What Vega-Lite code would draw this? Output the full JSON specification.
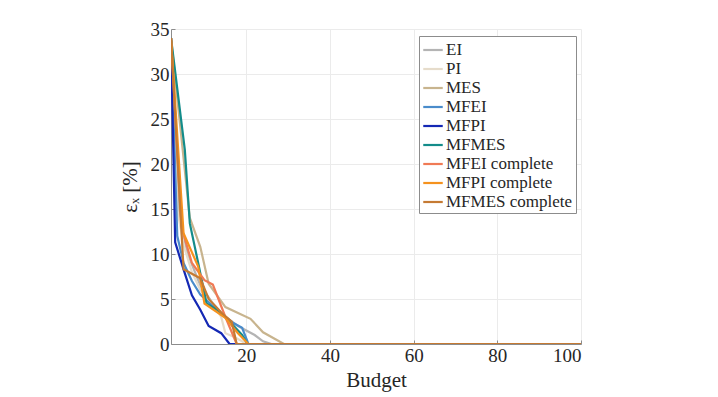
{
  "$schema": "https://vega.github.io/schema/vega-lite/v6.json",
  "autosize": "none",
  "width": 410,
  "height": 315,
  "padding": {"left": 171, "top": 29, "right": 137, "bottom": 53},
  "background": "white",
  "config": {
    "font": "Liberation Serif",
    "view": {"stroke": null},
    "axis": {
      "labelFont": "Liberation Serif",
      "titleFont": "Liberation Serif",
      "labelFontSize": 19,
      "titleFontSize": 21,
      "titleFontWeight": "normal",
      "labelColor": "#262626",
      "titleColor": "#262626",
      "domainColor": "#8c8c8c",
      "gridColor": "#ebebeb",
      "tickColor": "#8c8c8c",
      "tickSize": -4
    },
    "legend": {
      "labelFont": "Liberation Serif",
      "labelFontSize": 17,
      "labelColor": "#262626"
    }
  },
  "data": {
    "values": [
      {"method": "EI", "b": 2, "v": 34},
      {"method": "EI", "b": 4, "v": 14},
      {"method": "EI", "b": 6, "v": 10},
      {"method": "EI", "b": 9, "v": 6.5},
      {"method": "EI", "b": 12, "v": 4.5},
      {"method": "EI", "b": 15, "v": 3},
      {"method": "EI", "b": 18, "v": 2},
      {"method": "EI", "b": 22, "v": 1.0},
      {"method": "EI", "b": 24, "v": 0.3},
      {"method": "EI", "b": 26, "v": 0},
      {"method": "EI", "b": 100, "v": 0},

      {"method": "PI", "b": 2, "v": 34},
      {"method": "PI", "b": 3.5, "v": 15},
      {"method": "PI", "b": 5, "v": 11},
      {"method": "PI", "b": 7, "v": 8},
      {"method": "PI", "b": 9, "v": 6},
      {"method": "PI", "b": 12, "v": 4.5},
      {"method": "PI", "b": 14, "v": 3},
      {"method": "PI", "b": 15, "v": 1.2},
      {"method": "PI", "b": 17, "v": 0.8},
      {"method": "PI", "b": 19, "v": 0.3},
      {"method": "PI", "b": 20, "v": 0},
      {"method": "PI", "b": 100, "v": 0},

      {"method": "MES", "b": 2, "v": 34},
      {"method": "MES", "b": 6.5, "v": 14},
      {"method": "MES", "b": 9, "v": 10.8},
      {"method": "MES", "b": 11, "v": 6.7},
      {"method": "MES", "b": 15, "v": 4.1},
      {"method": "MES", "b": 21, "v": 2.8},
      {"method": "MES", "b": 24, "v": 1.3},
      {"method": "MES", "b": 29, "v": 0},
      {"method": "MES", "b": 100, "v": 0},

      {"method": "MFEI", "b": 2, "v": 34},
      {"method": "MFEI", "b": 3.5, "v": 12},
      {"method": "MFEI", "b": 5, "v": 9},
      {"method": "MFEI", "b": 7, "v": 7},
      {"method": "MFEI", "b": 9, "v": 5.5},
      {"method": "MFEI", "b": 12, "v": 4.2},
      {"method": "MFEI", "b": 15, "v": 3},
      {"method": "MFEI", "b": 17, "v": 2.3},
      {"method": "MFEI", "b": 19, "v": 1.8},
      {"method": "MFEI", "b": 20.5, "v": 0},
      {"method": "MFEI", "b": 100, "v": 0},

      {"method": "MFPI", "b": 2, "v": 34},
      {"method": "MFPI", "b": 3, "v": 11.3},
      {"method": "MFPI", "b": 5, "v": 8.3},
      {"method": "MFPI", "b": 7, "v": 5.4},
      {"method": "MFPI", "b": 9, "v": 3.8},
      {"method": "MFPI", "b": 11, "v": 2.0},
      {"method": "MFPI", "b": 14, "v": 1.2},
      {"method": "MFPI", "b": 16, "v": 0},
      {"method": "MFPI", "b": 100, "v": 0},

      {"method": "MFMES", "b": 2, "v": 34},
      {"method": "MFMES", "b": 5.3, "v": 21.6},
      {"method": "MFMES", "b": 6.5, "v": 13.4},
      {"method": "MFMES", "b": 8.5, "v": 9},
      {"method": "MFMES", "b": 10.5, "v": 4.5},
      {"method": "MFMES", "b": 13, "v": 3.8},
      {"method": "MFMES", "b": 16, "v": 2.5},
      {"method": "MFMES", "b": 19, "v": 1.0},
      {"method": "MFMES", "b": 20.3, "v": 0},
      {"method": "MFMES", "b": 100, "v": 0},

      {"method": "MFEI complete", "b": 2, "v": 34},
      {"method": "MFEI complete", "b": 4.5, "v": 13},
      {"method": "MFEI complete", "b": 7, "v": 9},
      {"method": "MFEI complete", "b": 10, "v": 7.1},
      {"method": "MFEI complete", "b": 12, "v": 6.6},
      {"method": "MFEI complete", "b": 15, "v": 3},
      {"method": "MFEI complete", "b": 17.7, "v": 0},
      {"method": "MFEI complete", "b": 100, "v": 0},

      {"method": "MFPI complete", "b": 2, "v": 34},
      {"method": "MFPI complete", "b": 5, "v": 12.3},
      {"method": "MFPI complete", "b": 8.5, "v": 8.6},
      {"method": "MFPI complete", "b": 10, "v": 4.5},
      {"method": "MFPI complete", "b": 15, "v": 2.9},
      {"method": "MFPI complete", "b": 18, "v": 1.2},
      {"method": "MFPI complete", "b": 20.5, "v": 0},
      {"method": "MFPI complete", "b": 100, "v": 0},

      {"method": "MFMES complete", "b": 2, "v": 34},
      {"method": "MFMES complete", "b": 5, "v": 8.3},
      {"method": "MFMES complete", "b": 9, "v": 7.3},
      {"method": "MFMES complete", "b": 11, "v": 5},
      {"method": "MFMES complete", "b": 14, "v": 3.5},
      {"method": "MFMES complete", "b": 16.5, "v": 2.5},
      {"method": "MFMES complete", "b": 17.7, "v": 0},
      {"method": "MFMES complete", "b": 100, "v": 0}
    ]
  },
  "mark": {"type": "line", "strokeWidth": 2.2, "clip": true},
  "encoding": {
    "x": {
      "field": "b",
      "type": "quantitative",
      "scale": {"domain": [2, 100], "nice": false, "zero": false},
      "axis": {"title": "Budget", "values": [20, 40, 60, 80, 100], "labelPadding": 6, "titlePadding": 4, "labelFont": "Liberation Serif", "titleFont": "Liberation Serif"}
    },
    "y": {
      "field": "v",
      "type": "quantitative",
      "scale": {"domain": [0, 35], "nice": false},
      "axis": {"title": "εₓ  [%]", "values": [0, 5, 10, 15, 20, 25, 30, 35], "labelPadding": 6, "titlePadding": 10, "labelFont": "Liberation Serif", "titleFont": "Liberation Serif"}
    },
    "color": {
      "field": "method",
      "type": "nominal",
      "scale": {
        "domain": ["EI", "PI", "MES", "MFEI", "MFPI", "MFMES", "MFEI complete", "MFPI complete", "MFMES complete"],
        "range": ["#b4b4b4", "#e6dccb", "#c8b48e", "#4a8ccb", "#1428b4", "#138c8a", "#f07a55", "#f5921e", "#c57a33"]
      },
      "legend": {
        "title": null,
        "orient": "none",
        "legendX": 248,
        "legendY": 7,
        "symbolType": "stroke",
        "symbolSize": 380,
        "symbolStrokeWidth": 2.2,
        "labelOffset": 2,
        "rowPadding": 0,
        "padding": 3,
        "strokeColor": "#8c8c8c",
        "fillColor": "white",
        "labelLimit": 300,
        "labelFont": "Liberation Serif"
      }
    },
    "order": {"field": "b", "type": "quantitative"}
  }
}
